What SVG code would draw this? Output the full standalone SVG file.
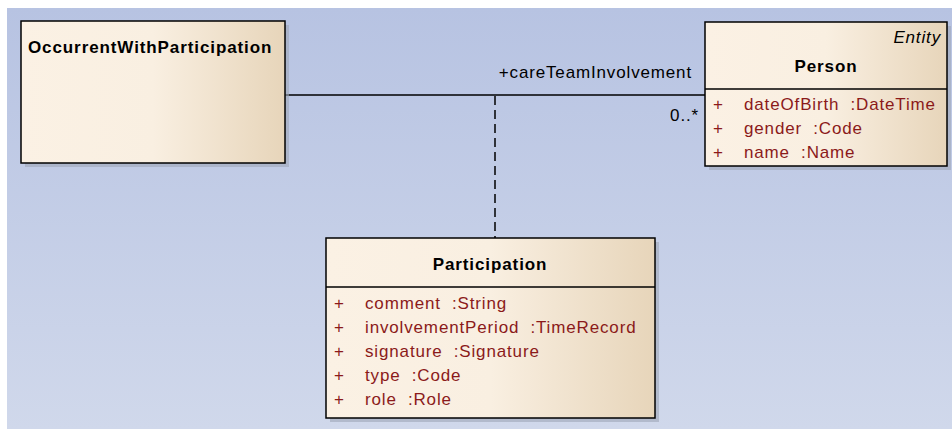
<svg xmlns="http://www.w3.org/2000/svg" width="952" height="429" viewBox="0 0 952 429" xml:space="preserve">
  <defs>
    <linearGradient id="bg" x1="0" y1="0" x2="0" y2="1">
      <stop offset="0" stop-color="#b7c3e2"/>
      <stop offset="1" stop-color="#d0d8eb"/>
    </linearGradient>
    <linearGradient id="boxFill" x1="0" y1="0" x2="1" y2="0">
      <stop offset="0" stop-color="#fbf1e4"/>
      <stop offset="0.5" stop-color="#f9efe1"/>
      <stop offset="1" stop-color="#e7d5ba"/>
    </linearGradient>
    <style>
      .box { fill: url(#boxFill); stroke: #000; stroke-width: 1.5; }
      .shadow { fill: #9fa7b8; opacity: 0.6; }
      .sep { stroke: #000; stroke-width: 1.5; }
      text { font-family: "Liberation Sans", Arial, sans-serif; font-size: 17px; letter-spacing: 0.85px; white-space: pre; }
      .title { font-weight: bold; fill: #000; letter-spacing: 0.9px; }
      .attr { fill: #8b1a1a; }
      .lbl { fill: #000; }
      .stereo { font-style: italic; fill: #000; }
      .line { stroke: #000; stroke-width: 1.5; fill: none; }
      .dash { stroke: #000; stroke-width: 1.5; stroke-dasharray: 9 5; fill: none; }
    </style>
  </defs>

  <rect x="0" y="0" width="952" height="429" fill="#ffffff"/>
  <rect x="7" y="8" width="945" height="421" fill="url(#bg)"/>

  <!-- connectors -->
  <g id="connectors">
    <line class="line" x1="285" y1="95" x2="705" y2="95"/>
    <line class="dash" x1="495" y1="96" x2="495" y2="238"/>
    <text class="lbl" x="692" y="78" text-anchor="end">+careTeamInvolvement</text>
    <text class="lbl" x="699" y="121" text-anchor="end">0..*</text>
  </g>

  <!-- OccurrentWithParticipation -->
  <g id="OccurrentWithParticipation">
    <rect class="shadow" x="25" y="25" width="264" height="142"/>
    <rect class="box" x="21" y="21" width="264" height="142"/>
    <text class="title" x="28" y="53">OccurrentWithParticipation</text>
  </g>

  <!-- Person -->
  <g id="Person">
    <rect class="shadow" x="709" y="26" width="242" height="144"/>
    <rect class="box" x="705" y="22" width="242" height="144"/>
    <text class="stereo" x="941" y="43" text-anchor="end">Entity</text>
    <text class="title" x="826" y="72" text-anchor="middle">Person</text>
    <line class="sep" x1="705" y1="89" x2="947" y2="89"/>
    <text class="attr" x="713" y="110">+</text>
    <text class="attr" x="744" y="110">dateOfBirth  :DateTime</text>
    <text class="attr" x="713" y="134">+</text>
    <text class="attr" x="744" y="134">gender  :Code</text>
    <text class="attr" x="713" y="158">+</text>
    <text class="attr" x="744" y="158">name  :Name</text>
  </g>

  <!-- Participation -->
  <g id="Participation">
    <rect class="shadow" x="330" y="242" width="329" height="180"/>
    <rect class="box" x="326" y="238" width="329" height="180"/>
    <text class="title" x="490" y="270" text-anchor="middle">Participation</text>
    <line class="sep" x1="326" y1="287" x2="655" y2="287"/>
    <text class="attr" x="334" y="309">+</text>
    <text class="attr" x="365" y="309">comment  :String</text>
    <text class="attr" x="334" y="333">+</text>
    <text class="attr" x="365" y="333">involvementPeriod  :TimeRecord</text>
    <text class="attr" x="334" y="357">+</text>
    <text class="attr" x="365" y="357">signature  :Signature</text>
    <text class="attr" x="334" y="381">+</text>
    <text class="attr" x="365" y="381">type  :Code</text>
    <text class="attr" x="334" y="405">+</text>
    <text class="attr" x="365" y="405">role  :Role</text>
  </g>
</svg>
